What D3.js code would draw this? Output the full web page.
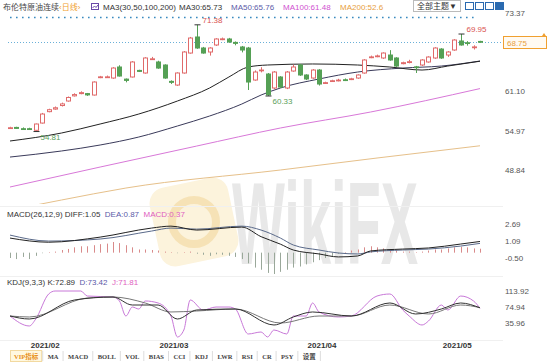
<!DOCTYPE html>
<html>
<head>
<meta charset="utf-8">
<script src="https://cdn.jsdelivr.net/npm/d3@7"></script>
<style>
body { margin: 0; background: #fff; }
svg { display: block; font-family: "Liberation Sans", "Noto Sans CJK SC", sans-serif; }
</style>
</head>
<body>
<svg id="chart"></svg>
<script>
const W = 554, H = 364;

// trading days (2021)
const dates = ["01-26","01-27","01-28","01-29",
  "02-01","02-02","02-03","02-04","02-05","02-08","02-09","02-10","02-11","02-12",
  "02-15","02-16","02-17","02-18","02-19","02-22","02-23","02-24","02-25","02-26",
  "03-01","03-02","03-03","03-04","03-05","03-08","03-09","03-10","03-11","03-12",
  "03-15","03-16","03-17","03-18","03-19","03-22","03-23","03-24","03-25","03-26",
  "03-29","03-30","03-31","04-01","04-05","04-06","04-07","04-08","04-09","04-12",
  "04-13","04-14","04-15","04-16","04-19","04-20","04-21","04-22","04-23","04-26",
  "04-27","04-28","04-29","04-30","05-03","05-04","05-05","05-06","05-07","05-10"];

const open = [55.36,55.45,55.25,55.25,55.00,56.13,57.90,58.30,58.85,59.55,60.35,60.70,60.70,60.48,
  63.20,63.25,63.12,64.83,62.95,63.28,64.30,63.90,66.05,65.61,65.14,62.60,62.03,63.90,67.00,69.49,
  67.78,67.16,68.25,69.15,69.18,68.65,67.94,67.78,62.81,64.30,63.74,61.57,63.28,61.57,64.21,65.14,
  63.59,63.12,64.36,62.30,62.60,62.75,62.85,62.90,63.12,63.90,66.30,66.50,66.23,66.69,66.23,65.35,
  65.55,64.85,65.14,65.61,66.23,67.62,66.69,67.47,68.87,68.60,67.85,68.80];
const high = [55.55,55.55,55.45,55.40,56.05,57.70,58.35,58.70,59.30,60.25,60.75,61.05,60.80,62.60,
  63.45,63.50,64.80,65.10,63.05,65.75,64.40,66.35,66.40,65.80,65.25,62.75,64.00,67.30,69.50,71.38,
  67.95,67.90,69.30,69.40,69.35,68.80,68.10,67.95,64.30,64.80,63.90,64.20,63.40,64.20,65.20,65.30,
  63.70,64.50,64.50,62.55,62.85,63.00,63.05,63.15,63.70,66.05,66.60,66.75,67.10,67.45,66.35,65.65,
  65.95,65.00,66.05,66.50,67.90,67.75,67.30,69.15,69.95,68.85,68.20,68.90];
const low = [55.25,55.25,55.10,55.05,54.81,56.05,57.80,58.20,58.70,59.45,60.25,60.60,60.35,60.40,
  63.10,63.15,63.00,63.35,62.45,63.20,64.05,63.80,65.95,64.55,63.00,62.20,61.90,63.80,66.90,67.65,
  66.90,66.60,68.10,69.00,68.60,68.20,67.10,61.26,62.70,64.00,60.33,61.40,61.60,61.40,64.10,63.45,
  62.80,63.00,61.95,62.20,62.50,62.60,62.65,62.80,63.00,63.80,66.20,66.35,66.10,65.80,64.85,65.25,
  65.40,63.90,65.00,65.50,66.10,66.10,66.40,67.35,68.15,68.15,67.55,68.60];
const close = [55.40,55.30,55.20,55.18,55.98,57.53,58.20,58.50,59.10,60.10,60.55,60.85,60.50,62.50,
  63.30,63.30,64.67,63.43,62.75,65.61,64.15,66.23,66.10,64.67,63.12,62.45,63.90,67.16,69.33,67.78,
  67.00,67.78,69.18,69.20,68.71,68.50,67.47,62.50,64.05,64.36,60.50,64.05,61.72,64.05,64.83,63.59,
  62.97,64.36,62.19,62.40,62.70,62.80,62.80,63.00,63.59,65.92,66.40,66.55,67.00,65.92,64.98,65.50,
  65.65,64.80,65.92,66.38,67.78,66.23,67.16,69.02,68.25,68.50,67.95,68.75];

// moving averages, read at sample days
const ma30 = [["01-26",53.34],["02-05",54.58],["02-15",55.98],["02-23",57.53],["03-03",59.55],
  ["03-10",61.57],["03-15",63.28],["03-18",64.83],["03-23",65.14],["04-01",65.3],["04-13",65.14],
  ["04-20",64.83],["04-27",64.36],["05-03",64.98],["05-10",65.73]];
const ma50 = [["01-26",50.85],["02-05",51.79],["02-15",52.72],["02-23",53.96],["03-03",55.67],
  ["03-10",57.22],["03-17",59.08],["03-22",60.48],["03-25",61.57],["04-05",62.97],["04-13",64.05],
  ["04-22",64.67],["04-30",64.98],["05-10",65.76]];
const ma100 = [["01-26",46.20],["02-15",49.30],["03-08",52.56],["03-25",55.36],["04-15",57.84],["05-10",61.48]];
const ma200 = [["01-26",42.62],["02-05",44.18],["02-19",46.04],["03-25",48.84],["04-16",50.70],["05-10",52.6]];

const priceTicks = [73.37, 61.10, 54.97, 48.84];
const lastPrice = 68.75;
const topLevel = 72.6;
const marks = [["03-08",71.38,"high"],["05-05",69.95,"high"],["02-01",54.81,"low"],["03-23",60.33,"low"]];

// MACD
const diff = [["01-26",1.37],["02-03",0.98],["02-15",1.46],["02-25",2.31],["03-02",2.49],["03-08",2.12],
  ["03-17",2.40],["03-22",1.50],["03-25",0.80],["03-29",0.25],["04-05",-0.12],["04-08",-0.40],
  ["04-13",-0.31],["04-15",0.16],["04-22",0.34],["04-28",0.44],["05-05",0.81],["05-10",1.05]];
const dea = [["01-26",1.65],["02-03",1.09],["02-15",1.28],["02-25",2.03],["03-02",2.31],["03-08",2.21],
  ["03-17",2.49],["03-22",2.12],["03-25",1.37],["03-29",0.72],["04-05",0.25],["04-08",-0.03],
  ["04-13",-0.12],["04-15",0.07],["04-22",0.25],["04-28",0.34],["05-05",0.62],["05-10",0.87]];
const macdHist = [-0.5,-0.6,-0.4,-0.6,-0.3,-0.05,0.05,0.1,0.25,0.35,0.5,0.6,0.6,0.7,0.8,0.85,1.0,0.9,
  0.7,0.5,0.3,0.3,0.25,0.2,0.1,0.05,-0.05,0.05,0.1,-0.1,-0.2,-0.3,-0.15,-0.2,-0.3,-0.4,-0.6,-1.0,
  -1.4,-1.6,-1.9,-2.0,-1.8,-1.6,-1.4,-1.3,-1.1,-0.9,-0.7,-0.5,-0.3,-0.1,0.05,0.2,0.3,0.5,0.6,0.5,
  0.4,0.3,0.2,0.1,0.1,0.05,0.1,0.2,0.3,0.3,0.4,0.5,0.55,0.5,0.4,0.37];
const macdTicks = [2.69, 1.09, -0.50];

// KDJ
const kLine = [["01-26",53.0],["01-29",45.7],["02-09",92.0],["02-17",99.3],["02-22",79.8],["02-26",79.8],
  ["03-03",45.7],["03-08",67.6],["03-16",70.1],["03-24",31.1],["03-29",50.6],["04-01",62.8],
  ["04-12",53.0],["04-20",84.7],["04-26",57.9],["04-30",70.1],["05-05",84.7],["05-10",72.89]];
const dLine = [["01-26",53.0],["01-29",50.6],["02-11",96.9],["02-17",99.3],["02-24",84.7],["03-02",62.8],
  ["03-08",65.2],["03-16",70.1],["03-25",35.96],["04-05",53.0],["04-12",53.0],["04-20",79.8],
  ["04-28",57.9],["05-05",79.8],["05-10",73.42]];
const jLine = [["01-26",53.0],["01-29",28.7],["02-01",45.7],["02-03",106.6],["02-04",113.9],["02-10",113.9],
  ["02-11",101.7],["02-17",99.3],["02-18",89.6],["02-19",53.0],["02-22",74.9],["02-23",70.1],
  ["02-24",89.6],["02-26",84.7],["03-02",53.0],["03-03",1.9],["03-04",18.9],["03-05",92.0],
  ["03-09",67.6],["03-11",74.9],["03-15",74.9],["03-16",70.1],["03-18",9.2],["03-22",14.0],
  ["03-23",1.9],["03-24",18.9],["03-26",9.2],["03-29",53.0],["03-31",53.0],["04-01",84.7],
  ["04-05",62.8],["04-08",50.6],["04-12",53.0],["04-16",101.7],["04-20",106.6],["04-22",67.6],
  ["04-23",53.0],["04-27",31.1],["04-28",40.8],["04-30",79.8],["05-03",67.6],["05-05",101.7],
  ["05-07",89.6],["05-10",71.81]];
const kdjTicks = [113.92, 74.94, 35.96];

const monthTicks = [["02-01","2021/02"],["03-01","2021/03"],["04-01","2021/04"],["05-03","2021/05"]];
const toolbarItems = ["VIP指标","MA","MACD","BOLL","VOL","BIAS","CCI","KDJ","LWR","RSI","CR","PSY","设置"];

const upColor = "#e06a6a", downColor = "#55a055";

const svg = d3.select("#chart").attr("width", W).attr("height", H);
const defs = svg.append("defs");

const x = d3.scalePoint().domain(dates).range([10, 480]);
const y = d3.scaleLinear().domain([48.84, 73.37]).range([170, 12]);
const yMacd = d3.scaleLinear().domain([-0.50, 2.69]).range([258, 224]);
const yKdj = d3.scaleLinear().domain([35.96, 113.92]).range([323, 291]);

// clip areas for panels
[["clipMain", 9, 204], ["clipMacd", 218, 276], ["clipKdj", 286, 339]].forEach(([id, t, b]) => {
  defs.append("clipPath").attr("id", id).append("rect")
    .attr("x", 0).attr("y", t).attr("width", 503).attr("height", b - t);
});

// watermark
const wm = svg.append("g").attr("class", "watermark");
wm.append("rect").attr("x", 154).attr("y", 182).attr("width", 80).attr("height", 80).attr("rx", 16)
  .attr("fill", "#fcf3dc").attr("transform", "rotate(-12,194,222)");
wm.append("circle").attr("cx", 194).attr("cy", 222).attr("r", 22)
  .attr("fill", "none").attr("stroke", "#f6e2b6").attr("stroke-width", 8);
wm.append("text").attr("transform", "translate(232,264) scale(1,2.1)")
  .attr("font-size", 56).attr("font-weight", 700)
  .attr("fill", "#e8e8e8").text("WikiFX");

// panel separators
svg.append("g").selectAll("line").data([206, 276, 340]).join("line")
  .attr("x1", 0).attr("x2", 503).attr("y1", d => d + 0.5).attr("y2", d => d + 0.5)
  .attr("stroke", "#f0f0f0");

// ---------- header ----------
const header = svg.append("g").attr("font-size", 8);
const headerItems = [
  [3, "布伦特原油连续", "#444"], [59, "‹日线›", "#f0a030"], [103, "MA3(30,50,100,200)", "#333"],
  [179, "MA30:65.73", "#333"], [231, "MA50:65.76", "#5a5aa8"], [283, "MA100:61.48", "#d050d0"],
  [340, "MA200:52.6", "#e8a040"]];
header.selectAll("text").data(headerItems).join("text")
  .attr("x", d => d[0]).attr("y", 9.5).attr("fill", d => d[2]).text(d => d[1]);
header.append("rect").attr("x", 91.5).attr("y", 3.5).attr("width", 7).attr("height", 6)
  .attr("fill", "none").attr("stroke", "#6a4aa8");
header.append("polyline").attr("points", "92.5,8 94.5,6 96,7.5 98,5").attr("fill", "none").attr("stroke", "#6a4aa8");
header.append("rect").attr("x", 413.5).attr("y", 0.5).attr("width", 47).attr("height", 11)
  .attr("fill", "#fff").attr("stroke", "#bbb");
header.append("text").attr("x", 417).attr("y", 9).attr("fill", "#333").text("全部主题▼");
header.selectAll(".ico").data([0, 1, 2, 3]).join("rect")
  .attr("x", d => 465.5 + d * 10).attr("y", 2.5).attr("width", 8).attr("height", 7)
  .attr("fill", d => d === 3 ? "#2a6ab0" : "#fff").attr("stroke", "#2a6ab0");

// ---------- main price panel ----------
const main = svg.append("g").attr("clip-path", "url(#clipMain)");

main.append("line").attr("x1", 10).attr("x2", 478)
  .attr("y1", Math.round(y(topLevel)) + 0.5).attr("y2", Math.round(y(topLevel)) + 0.5)
  .attr("stroke", "#3a8ac0").attr("stroke-width", 1.6).attr("stroke-dasharray", "1.6,4.4");
main.append("line").attr("x1", 8).attr("x2", 503)
  .attr("y1", Math.round(y(lastPrice)) + 0.5).attr("y2", Math.round(y(lastPrice)) + 0.5)
  .attr("stroke", "#6ab0d8").attr("stroke-dasharray", "1,2");

const maLine = d3.line().x(d => x(d[0])).y(d => y(d[1])).curve(d3.curveMonotoneX);
[[ma200, "#e6c08a"], [ma100, "#d878d8"], [ma50, "#3a3a5a"], [ma30, "#222"]].forEach(([data, col]) => {
  main.append("path").datum(data).attr("d", maLine)
    .attr("fill", "none").attr("stroke", col).attr("stroke-width", 1);
});

const candles = dates.map((d, i) => ({ date: d, o: open[i], h: high[i], l: low[i], c: close[i] }));
const cx = d => Math.round(x(d.date)) + 0.5;
const isUp = d => d.c >= d.o;
main.append("g").selectAll("line").data(candles).join("line")
  .attr("x1", cx).attr("x2", cx).attr("y1", d => y(d.h)).attr("y2", d => y(d.l))
  .attr("stroke", d => isUp(d) ? upColor : downColor);
main.append("g").selectAll("rect").data(candles).join("rect")
  .attr("x", d => cx(d) - 2).attr("width", 4)
  .attr("y", d => y(Math.max(d.o, d.c)))
  .attr("height", d => Math.max(0.8, Math.abs(y(d.o) - y(d.c))))
  .attr("fill", d => isUp(d) ? "#fff" : downColor)
  .attr("stroke", d => isUp(d) ? upColor : downColor);

// high / low marks
const markG = main.append("g").attr("font-size", 8);
marks.forEach(([d, v, kind]) => {
  const px = Math.round(x(d)) + 0.5, py = y(v);
  markG.append("line").attr("x1", px - 3).attr("x2", px + 3).attr("y1", py).attr("y2", py).attr("stroke", "#333");
  if (kind === "high") {
    markG.append("text").attr("x", px + 5).attr("y", py - 2).attr("fill", "#d9534f").text(v.toFixed(2));
  } else {
    markG.append("text").attr("x", px + 4).attr("y", py + 8).attr("fill", "#5aa05a").text(v.toFixed(2));
  }
});

// price axis
const axisR = svg.append("g").attr("font-size", 8).attr("fill", "#555");
axisR.selectAll("text").data(priceTicks).join("text")
  .attr("x", 505).attr("y", d => Math.max(15.5, y(d) + 3)).text(d => d.toFixed(2));
const lpY = Math.round(y(lastPrice));
axisR.append("rect").attr("x", 503.5).attr("y", lpY - 5.5).attr("width", 43).attr("height", 12)
  .attr("fill", "#fffaf2").attr("stroke", "#f0a030");
axisR.append("text").attr("x", 507).attr("y", lpY + 3.5).attr("fill", "#e8a040").text(lastPrice.toFixed(2));
axisR.append("path").attr("d", `M544,${lpY - 9} l2,3 l-4,0 z`).attr("fill", "#f0a030");

// ---------- MACD panel ----------
const macdTitle = svg.append("text").attr("x", 7).attr("y", 217).attr("font-size", 8);
[["MACD(26,12,9) DIFF:1.05", "#333"], ["  DEA:0.87", "#5a5aa8"], ["  MACD:0.37", "#e060c0"]].forEach(([t, c]) => {
  macdTitle.append("tspan").attr("fill", c).attr("xml:space", "preserve").text(t);
});
const macd = svg.append("g").attr("clip-path", "url(#clipMacd)");
macd.append("g").selectAll("line").data(macdHist.map((v, i) => [dates[i], v])).join("line")
  .attr("x1", d => Math.round(x(d[0])) + 0.5).attr("x2", d => Math.round(x(d[0])) + 0.5)
  .attr("y1", yMacd(0)).attr("y2", d => yMacd(d[1]))
  .attr("stroke", d => d[1] >= 0 ? "#d98a8a" : "#9aa89a");
const macdLine = d3.line().x(d => x(d[0])).y(d => yMacd(d[1])).curve(d3.curveMonotoneX);
macd.append("path").datum(dea).attr("d", macdLine).attr("fill", "none").attr("stroke", "#5a6a8a");
macd.append("path").datum(diff).attr("d", macdLine).attr("fill", "none").attr("stroke", "#222");
svg.append("g").attr("font-size", 8).attr("fill", "#555").selectAll("text").data(macdTicks).join("text")
  .attr("x", 505).attr("y", d => yMacd(d) + 3).text(d => d.toFixed(2));

// ---------- KDJ panel ----------
const kdjTitle = svg.append("text").attr("x", 7).attr("y", 285).attr("font-size", 8);
[["KDJ(9,3,3) K:72.89", "#333"], ["  D:73.42", "#5a5aa8"], ["  J:71.81", "#e060c0"]].forEach(([t, c]) => {
  kdjTitle.append("tspan").attr("fill", c).attr("xml:space", "preserve").text(t);
});
const kdj = svg.append("g").attr("clip-path", "url(#clipKdj)");
const kdjLine = d3.line().x(d => x(d[0])).y(d => yKdj(d[1])).curve(d3.curveMonotoneX);
[[jLine, "#c878d8"], [dLine, "#777"], [kLine, "#333"]].forEach(([data, col]) => {
  kdj.append("path").datum(data).attr("d", kdjLine).attr("fill", "none").attr("stroke", col);
});
svg.append("g").attr("font-size", 8).attr("fill", "#555").selectAll("text").data(kdjTicks).join("text")
  .attr("x", 505).attr("y", d => yKdj(d) + 3).text(d => d.toFixed(2));

// ---------- date axis ----------
svg.append("g").attr("font-size", 8).attr("font-weight", 700).attr("fill", "#333")
  .selectAll("text").data(monthTicks).join("text")
  .attr("x", d => x(d[0]) - 5).attr("y", 348).text(d => d[1]);

// ---------- toolbar ----------
const tb = svg.append("g").attr("font-size", 6.5).attr("font-family", "'Liberation Serif','Noto Sans CJK SC',serif");
let tx = 14;
toolbarItems.forEach((t, i) => {
  const el = tb.append("text").attr("x", tx).attr("y", 358.5).text(t)
    .attr("fill", i === 0 ? "#e8901a" : "#444").attr("font-weight", 700);
  const w = el.node().getComputedTextLength();
  if (i === 0) {
    tb.insert("rect", "text").attr("x", tx - 3.5).attr("y", 350.5).attr("width", w + 7).attr("height", 11)
      .attr("fill", "#fff8e0").attr("stroke", "#f2d9a0");
  }
  tb.append("line").attr("x1", tx + w + 4.5).attr("x2", tx + w + 4.5).attr("y1", 351).attr("y2", 361)
    .attr("stroke", "#ddd");
  tx += w + 9.5;
});
</script>
</body>
</html>
